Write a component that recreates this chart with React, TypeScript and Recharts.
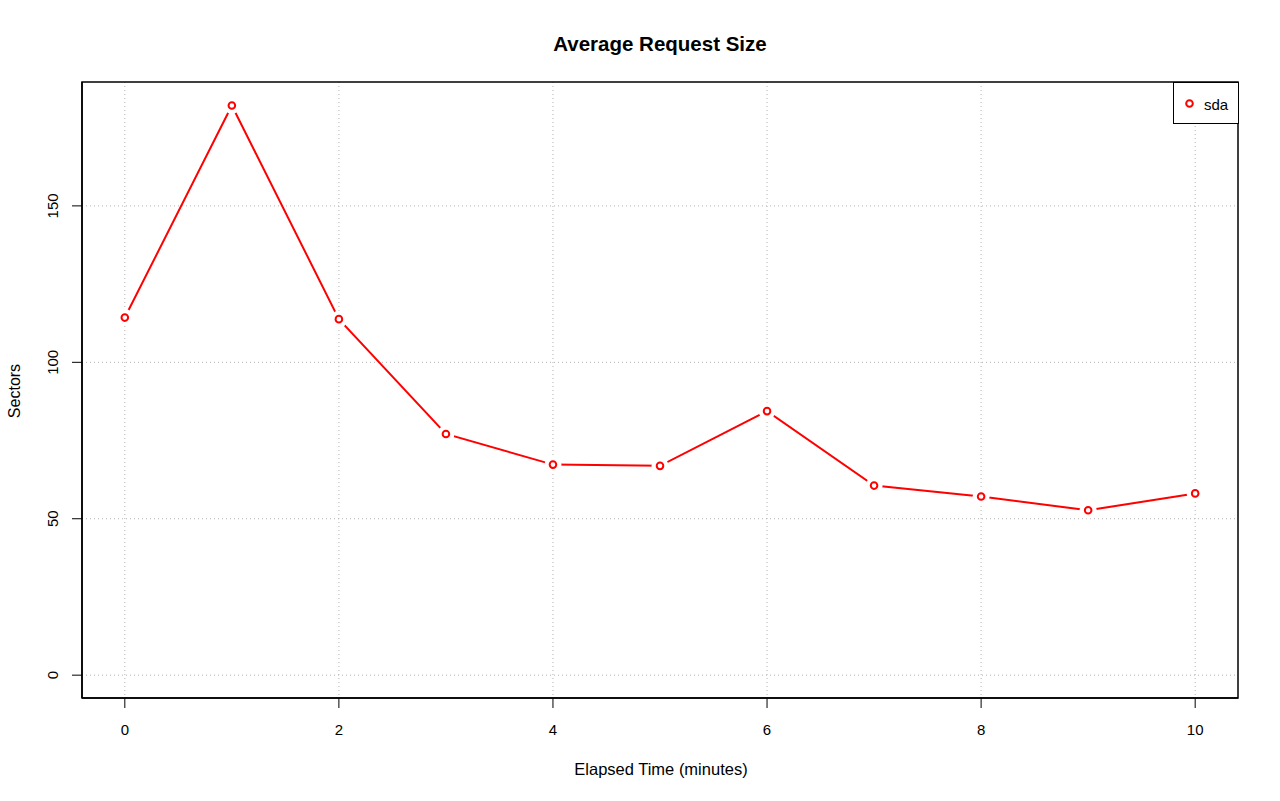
import React from 'react';
import { LineChart, Line, XAxis, YAxis, CartesianGrid, Legend, ReferenceArea } from 'recharts';

const minutes = [0, 1, 2, 3, 4, 5, 6, 7, 8, 9, 10];
const sdaSectors = [114.3, 182.1, 113.8, 77.1, 67.3, 66.9, 84.4, 60.6, 57.1, 52.7, 58.1];
const xTicks = [0, 2, 4, 6, 8, 10];
const yTicks = [0, 50, 100, 150];
const xDomain: [number, number] = [-0.4, 10.4];
const yDomain: [number, number] = [-7.3, 189.6];
const seriesName = 'sda';
const titleText = 'Average Request Size';
const xLabelText = 'Elapsed Time (minutes)';
const yLabelText = 'Sectors';

const data = minutes.map((m, i) => ({ minute: m, sda: sdaSectors[i] }));

const FONT = '"Liberation Sans", Arial, Helvetica, sans-serif';
const RED = '#ff0000';

const Dot = (props: any) => {
  const { cx, cy } = props;
  if (cx == null || cy == null) return null;
  return (
    <g>
      <circle cx={cx} cy={cy} r={8.5} fill="#ffffff" stroke="none" />
      <circle cx={cx} cy={cy} r={3.3} fill="#ffffff" stroke={RED} strokeWidth={2} />
    </g>
  );
};

const XTick = (props: any) => {
  const { x, y, payload } = props;
  return (
    <text x={x} y={y} dy="0.35em" textAnchor="middle" fontSize={15} fontFamily={FONT} fill="#000">
      {payload.value}
    </text>
  );
};

const YTick = (props: any) => {
  const { x, y, payload } = props;
  return (
    <text
      x={x}
      y={y}
      transform={`rotate(-90 ${x} ${y})`}
      textAnchor="middle"
      dominantBaseline="central"
      fontSize={15}
      fontFamily={FONT}
      fill="#000"
    >
      {payload.value}
    </text>
  );
};

const LegendBox = () => (
  <div
    style={{
      boxSizing: 'border-box',
      width: 66,
      height: 42,
      border: '1.5px solid #000',
      background: '#fff',
      position: 'relative',
    }}
  >
    <svg width={64} height={40} style={{ position: 'absolute', left: 0, top: 0 }}>
      <circle cx={15.5} cy={20.5} r={3.3} fill="#fff" stroke={RED} strokeWidth={2} />
      <text x={30} y={21} dominantBaseline="central" fontSize={15} fontFamily={FONT} fill="#000">
        {seriesName}
      </text>
    </svg>
  </div>
);

export default function App() {
  return (
    <div style={{ position: 'absolute', left: 0, top: 0, width: 1280, height: 801, background: '#fff' }}>
      <LineChart
        width={1280}
        height={801}
        data={data}
        margin={{ top: 82, right: 42, left: 0, bottom: 0 }}
      >
        <CartesianGrid
          stroke="#b4b4b4"
          strokeDasharray="1 3"
          strokeWidth={1}
          horizontalValues={yTicks}
          verticalValues={xTicks}
        />
        <XAxis
          dataKey="minute"
          type="number"
          domain={xDomain}
          allowDataOverflow
          ticks={xTicks}
          tickSize={10}
          tickMargin={22}
          height={103}
          tick={XTick}
          axisLine={{ stroke: '#000', strokeWidth: 1.5 }}
          tickLine={{ stroke: '#000', strokeWidth: 1 }}
        />
        <YAxis
          type="number"
          domain={yDomain}
          allowDataOverflow
          ticks={yTicks}
          width={82}
          tickSize={10}
          tickMargin={19}
          tick={YTick}
          axisLine={{ stroke: '#000', strokeWidth: 1.5 }}
          tickLine={{ stroke: '#000', strokeWidth: 1 }}
        />
        <ReferenceArea
          x1={xDomain[0]}
          x2={xDomain[1]}
          y1={yDomain[0]}
          y2={yDomain[1]}
          fill="none"
          fillOpacity={0}
          stroke="#000"
          strokeWidth={1.5}
          strokeOpacity={1}
          ifOverflow="visible"
        />
        <Line
          type="linear"
          dataKey="sda"
          name={seriesName}
          stroke={RED}
          strokeWidth={2}
          dot={Dot}
          activeDot={false}
          isAnimationActive={false}
        />
        <Legend
          layout="vertical"
          align="center"
          verticalAlign="middle"
          content={LegendBox}
          wrapperStyle={{ position: 'absolute', left: 1172.5, top: 81.5, width: 66, height: 42 }}
        />
        <text x={660} y={43} textAnchor="middle" dominantBaseline="central" fontSize={20.5} fontWeight="bold" fontFamily={FONT} fill="#000">
          {titleText}
        </text>
        <text x={661} y={769} textAnchor="middle" dominantBaseline="central" fontSize={16.5} fontFamily={FONT} fill="#000">
          {xLabelText}
        </text>
        <text x={14} y={391} transform="rotate(-90 14 391)" textAnchor="middle" dominantBaseline="central" fontSize={16} fontFamily={FONT} fill="#000">
          {yLabelText}
        </text>
      </LineChart>
    </div>
  );
}
